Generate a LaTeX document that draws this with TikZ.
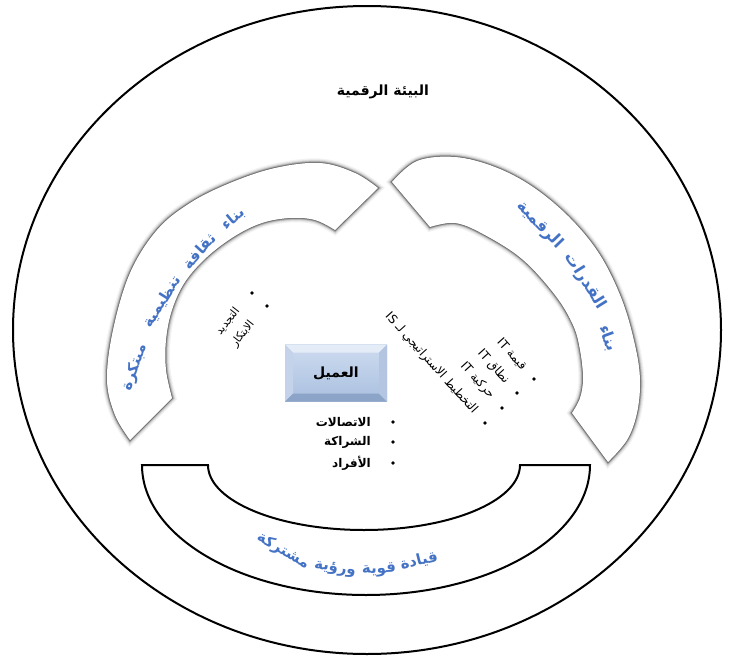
\documentclass[tikz,border=0pt]{standalone}
\usepackage{fontspec}
\newfontfamily\arabicfont[Script=Arabic]{DejaVu Sans}
\TeXXeTstate=1
\usetikzlibrary{positioning}
\definecolor{bandblue}{RGB}{68,114,196}
\definecolor{facetop}{RGB}{205,219,239}
\definecolor{facebot}{RGB}{170,192,224}
\definecolor{bevellight}{RGB}{228,236,247}
\definecolor{bevelside}{RGB}{196,211,234}
\definecolor{beveldark}{RGB}{140,164,200}
\newcommand{\artext}[1]{{\arabicfont\beginR #1\endR}}
\newcommand{\ltr}[1]{\beginL #1\endL{}}
\def\leftband{plot[smooth, tension=0.6] coordinates {(378,188) (355,173) (320,163) (275,168) (230,183) (190,203) (157,230) (130,273) (113,330) (107,380) (115,415) (130,440)} -- plot[smooth, tension=0.6] coordinates {(172,398) (166,370) (166,340) (172,310) (185,282) (207,257) (235,236) (262,223) (290,218) (315,220) (335,230)} -- cycle}
\def\rightband{plot[smooth, tension=0.6] coordinates {(392,182) (417,161) (455,157) (495,167) (533,187) (570,218) (600,255) (622,300) (635,345) (640,380) (637,413) (627,440) (608,462)} -- plot[smooth, tension=0.6] coordinates {(572,413) (580,398) (583,378) (580,350) (573,325) (555,295) (522,259) (483,234) (455,223) (430,227)} -- cycle}

\begin{document}
\begin{tikzpicture}[x=1pt, y=-1pt,
    rim/.style={line width=2pt},
    bandtitle/.style={font=\bfseries\fontsize{16}{18}\selectfont, text=bandblue, inner sep=0pt},
    sidetitle/.style={bandtitle, font=\bfseries\fontsize{15}{17}\selectfont},
    basetitle/.style={bandtitle, font=\bfseries\fontsize{15}{17}\selectfont},
    heading/.style={font=\bfseries\fontsize{14}{16}\selectfont, inner sep=1pt},
    item/.style={font=\bfseries\fontsize{12}{14}\selectfont, inner sep=1pt},
    tilted/.style={font=\fontsize{12}{14}\selectfont, inner sep=1pt},
    dot/.style={circle, fill=black, inner sep=0pt, minimum size=3.8pt},
    clientbox/.style={minimum width=102pt, minimum height=57pt, inner sep=0pt,
      top color=facetop, bottom color=facebot, font=\bfseries\fontsize{14}{16}\selectfont,
      path picture={
        \fill[bevellight] (path picture bounding box.north west) -- (path picture bounding box.north east)
          -- ([xshift=-8pt,yshift=-8pt]path picture bounding box.north east) -- ([xshift=8pt,yshift=-8pt]path picture bounding box.north west) -- cycle;
        \fill[bevelside] (path picture bounding box.north west) -- (path picture bounding box.south west)
          -- ([xshift=8pt,yshift=8pt]path picture bounding box.south west) -- ([xshift=8pt,yshift=-8pt]path picture bounding box.north west) -- cycle;
        \fill[beveldark] (path picture bounding box.south west) -- (path picture bounding box.south east)
          -- ([xshift=-8pt,yshift=8pt]path picture bounding box.south east) -- ([xshift=8pt,yshift=8pt]path picture bounding box.south west) -- cycle;
        \fill[bevelside!70!beveldark] (path picture bounding box.north east) -- (path picture bounding box.south east)
          -- ([xshift=-8pt,yshift=8pt]path picture bounding box.south east) -- ([xshift=-8pt,yshift=-8pt]path picture bounding box.north east) -- cycle;
      }}]
    \useasboundingbox (0,0) rectangle (729,656);
    \draw[rim] (367,330) ellipse[x radius=354, y radius=324];
    \node[heading] (env) at (383,92) {\artext{البيئة الرقمية}};

    \foreach \w/\o in {9/0.05, 6.5/0.08, 4.5/0.12, 3/0.18, 1.5/0.35} {
      \draw[line width=\w pt, black, opacity=\o] \leftband;
      \draw[line width=\w pt, black, opacity=\o] \rightband;
    }
    \fill[white] \leftband;
    \fill[white] \rightband;

    \draw[rim] (142,465) -- (208,465) arc[start angle=180, end angle=0, x radius=156, y radius=65]
      -- (590,465) arc[start angle=0, end angle=180, x radius=224, y radius=130] -- cycle;

    \node[sidetitle, rotate=40] (lw1) at (233,219) {\artext{بناء}};
    \node[sidetitle, rotate=48] (lw2) at (199,251) {\artext{ثقافة}};
    \node[sidetitle, rotate=58] (lw3) at (162,302) {\artext{تنظيمية}};
    \node[sidetitle, rotate=70] (lw4) at (135,367) {\artext{مبتكرة}};

    \node[bandtitle, rotate=-46] (rw1) at (540,225) {\artext{الرقمية}};
    \node[bandtitle, rotate=-58] (rw2) at (585,281) {\artext{القدرات}};
    \node[bandtitle, rotate=-70] (rw3) at (608,338) {\artext{بناء}};

    \node[basetitle, rotate=14] (bw1) at (419,561) {\artext{قيادة}};
    \node[basetitle, rotate=3] (bw2) at (379,570) {\artext{قوية}};
    \node[basetitle, rotate=-9] (bw3) at (335,569) {\artext{ورؤية}};
    \node[basetitle, rotate=-30] (bw4) at (283,551) {\artext{مشتركة}};

    \node[clientbox] (client) at (336,373) {\artext{العميل}};

    \node[dot] (c1) at (393,422) {};
    \node[dot] (c2) at (393,442) {};
    \node[dot] (c3) at (393,463) {};
    \node[item, anchor=east] (comm) at (372,422) {\artext{الاتصالات}};
    \node[item, anchor=east] (part) at (372,442) {\artext{الشراكة}};
    \node[item, anchor=east] (ppl) at (372,463) {\artext{الأفراد}};

    \node[dot] (l1) at (252,293) {};
    \node[dot] (l2) at (267,306) {};
    \node[tilted, font=\fontsize{11}{13}\selectfont, rotate=52, anchor=east] (renew) at (238,308) {\artext{التجديد}};
    \node[tilted, font=\fontsize{11}{13}\selectfont, rotate=52, anchor=east] (innov) at (253,321) {\artext{الابتكار}};

    \node[dot] (r1) at (534,379) {};
    \node[dot] (r2) at (517,393) {};
    \node[dot] (r3) at (502,408) {};
    \node[dot] (r4) at (485,423) {};
    \node[tilted, rotate=-48, anchor=east] (value) at (525,369) {\artext{قيمة \ltr{IT}}};
    \node[tilted, rotate=-48, anchor=east] (scope) at (508,383) {\artext{نطاق \ltr{IT}}};
    \node[tilted, rotate=-48, anchor=east] (move) at (493,398) {\artext{حركية \ltr{IT}}};
    \node[tilted, rotate=-48, anchor=east] (plan) at (476,413) {\artext{التخطيط الاستراتيجي لـ \ltr{IS}}};
\end{tikzpicture}
\end{document}
